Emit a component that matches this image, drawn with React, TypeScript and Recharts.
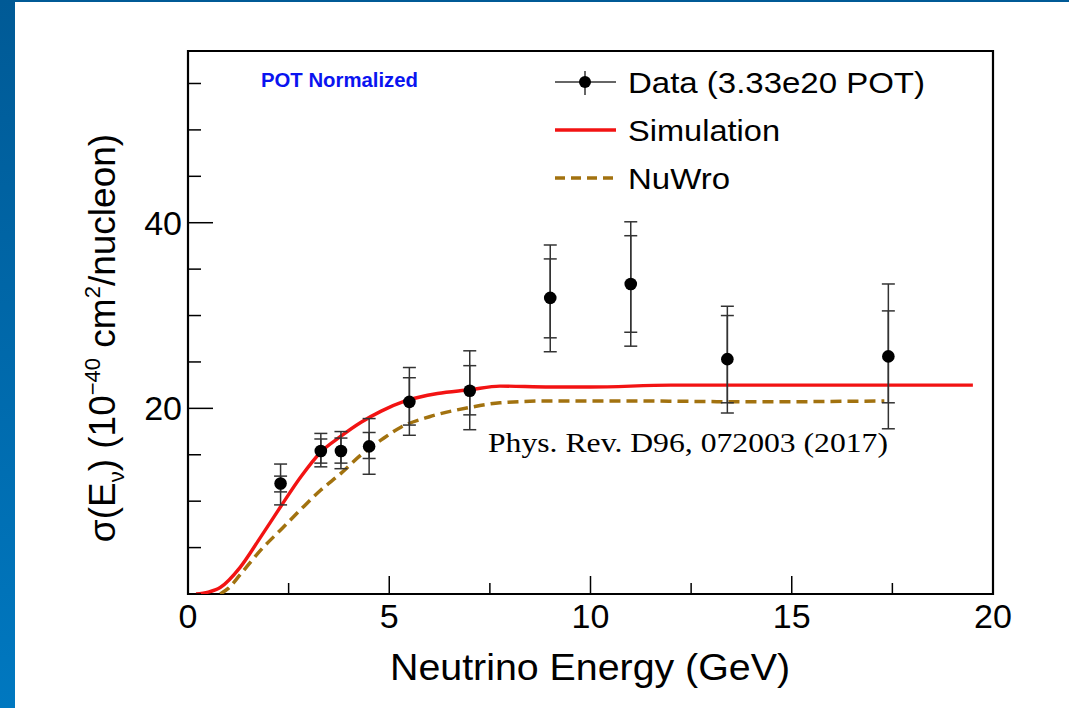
import {
  ComposedChart,
  Line,
  Scatter,
  ErrorBar,
  XAxis,
  YAxis,
  ReferenceArea,
} from "recharts";

// measured points (GeV, 1e-40 cm^2/nucleon)
const energy = [2.3, 3.3, 3.8, 4.5, 5.5, 7.0, 9.0, 11.0, 13.4, 17.4];
const xsec = [11.9, 15.4, 15.4, 15.9, 20.7, 21.9, 31.9, 33.4, 25.3, 25.6];
const totHigh = [14.0, 17.3, 17.5, 18.9, 24.4, 26.2, 37.6, 40.1, 31.0, 33.4];
const totLow = [9.6, 13.7, 13.5, 12.9, 17.1, 17.7, 26.1, 26.7, 19.5, 17.8];
const statHigh = [12.7, 16.7, 16.8, 17.4, 23.3, 24.6, 36.1, 38.6, 30.0, 30.5];
const statLow = [11.0, 14.1, 14.1, 14.6, 18.2, 19.3, 27.6, 28.2, 20.6, 20.6];

// simulation curve
const simE = [0.2, 0.5, 0.8, 1.3, 1.8, 2.3, 2.8, 3.3, 3.8, 4.3, 4.8, 5.4, 6.2, 7.0, 7.75, 9.0, 10.0, 12.0, 15.0, 19.5];
const simXs = [0, 0.2, 0.7, 2.9, 6.1, 9.4, 12.6, 15.3, 17.0, 18.5, 19.7, 20.8, 21.6, 22.0, 22.4, 22.3, 22.3, 22.5, 22.5, 22.5];

// NuWro curve
const nuE = [0.8, 1.0, 1.3, 1.8, 2.3, 2.8, 3.3, 3.8, 4.3, 4.8, 5.3, 6.0, 7.0, 7.75, 9.0, 11.0, 14.0, 17.3];
const nuXs = [0, 0.6, 2.1, 4.7, 6.9, 9.1, 11.2, 13.0, 15.0, 16.6, 18.0, 19.1, 20.1, 20.6, 20.8, 20.8, 20.7, 20.8];

const xTicks = [0, 2.5, 5, 7.5, 10, 12.5, 15, 17.5, 20];
const yTicks = [0, 5, 10, 15, 20, 25, 30, 35, 40, 45, 50, 55];
const xLabels = [0, 5, 10, 15, 20];
const yLabels = [20, 40];

const dataPoints = energy.map((e, i) => ({
  e,
  xs: xsec[i],
  tot: [xsec[i] - totLow[i], totHigh[i] - xsec[i]],
  stat: [xsec[i] - statLow[i], statHigh[i] - xsec[i]],
}));
const simData = simE.map((e, i) => ({ e, xs: simXs[i] }));
const nuData = nuE.map((e, i) => ({ e, xs: nuXs[i] }));

const FONT = "'Liberation Sans', Arial, sans-serif";
const RED = "#f21313";
const BROWN = "#a2720f";

const XTick = (props: any) => {
  const { x, y, payload } = props;
  const major = xLabels.includes(payload.value);
  return (
    <g>
      <line x1={x} x2={x} y1={y} y2={y - (major ? 18 : 11)} stroke="#000" strokeWidth={1.5} />
      {major && (
        <text x={x} y={y + 34} textAnchor="middle" fontSize={34} fontFamily={FONT} fill="#000">
          {payload.value}
        </text>
      )}
    </g>
  );
};

const YTick = (props: any) => {
  const { x, y, payload } = props;
  const major = yLabels.includes(payload.value);
  return (
    <g>
      <line x1={x} x2={x + (major ? 25 : 13)} y1={y} y2={y} stroke="#000" strokeWidth={1.5} />
      {major && (
        <text x={x - 6} y={y + 12} textAnchor="end" fontSize={34} fontFamily={FONT} fill="#000">
          {payload.value}
        </text>
      )}
    </g>
  );
};

const Dot = (props: any) => <circle cx={props.cx} cy={props.cy} r={6.3} fill="#000" />;

export default function App() {
  return (
    <div style={{ position: "absolute", left: 0, top: 0, width: 1069, height: 708, background: "#fff" }}>
      <div style={{ position: "absolute", left: 0, top: 0, width: 1069, height: 2, background: "#005a96" }} />
      <div
        style={{
          position: "absolute",
          left: 0,
          top: 0,
          width: 15,
          height: 708,
          background: "linear-gradient(#005a96, #0078c0)",
        }}
      />
      <ComposedChart
        width={1069}
        height={708}
        margin={{ top: 51, right: 76, left: 128, bottom: 74 }}
        style={{ position: "absolute", left: 0, top: 0 }}
      >
        <XAxis
          dataKey="e"
          type="number"
          domain={[0, 20]}
          ticks={xTicks}
          height={40}
          tickSize={0}
          tickMargin={0}
          axisLine={false}
          tick={<XTick />}
          allowDataOverflow
        />
        <YAxis
          type="number"
          domain={[0, 58.5]}
          ticks={yTicks}
          width={60}
          tickSize={0}
          tickMargin={0}
          axisLine={false}
          tick={<YTick />}
          allowDataOverflow
        />
        <ReferenceArea x1={0} x2={20} y1={0} y2={58.5} fill="none" stroke="#000" strokeWidth={2.2} />
        <Line
          data={simData}
          dataKey="xs"
          type="monotone"
          stroke={RED}
          strokeWidth={3.4}
          dot={false}
          isAnimationActive={false}
        />
        <Line
          data={nuData}
          dataKey="xs"
          type="monotone"
          stroke={BROWN}
          strokeWidth={3.5}
          strokeDasharray="11 6"
          dot={false}
          isAnimationActive={false}
        />
        <Scatter data={dataPoints} dataKey="xs" shape={<Dot />} isAnimationActive={false}>
          <ErrorBar dataKey="tot" width={6.5} stroke="#333" strokeWidth={1.5} direction="y" />
          <ErrorBar dataKey="stat" width={6.5} stroke="#333" strokeWidth={1.5} direction="y" />
        </Scatter>
      </ComposedChart>

      <svg width={1069} height={708} style={{ position: "absolute", left: 0, top: 0, pointerEvents: "none" }}>
        <text x={261} y={87} fontSize={20} fontWeight="bold" fill="#0a14f0" fontFamily={FONT} textLength={157} lengthAdjust="spacingAndGlyphs">
          POT Normalized
        </text>

        {/* legend */}
        <line x1={555} x2={616} y1={82} y2={82} stroke="#333" strokeWidth={1.5} />
        <line x1={585} x2={585} y1={71} y2={95} stroke="#333" strokeWidth={1.5} />
        <circle cx={585} cy={82} r={6} fill="#000" />
        <text x={628} y={93} fontSize={29} fontFamily={FONT} textLength={297} lengthAdjust="spacingAndGlyphs">
          Data (3.33e20 POT)
        </text>
        <line x1={555} x2={616} y1={130} y2={130} stroke={RED} strokeWidth={3.4} />
        <text x={628} y={141} fontSize={29} fontFamily={FONT} textLength={152} lengthAdjust="spacingAndGlyphs">
          Simulation
        </text>
        <line x1={555} x2={616} y1={178} y2={178} stroke={BROWN} strokeWidth={3.5} strokeDasharray="10 6" />
        <text x={628} y={189} fontSize={29} fontFamily={FONT} textLength={102} lengthAdjust="spacingAndGlyphs">
          NuWro
        </text>

        <text x={488} y={452} fontSize={28} fontFamily="'Liberation Serif', 'Times New Roman', serif" textLength={400} lengthAdjust="spacingAndGlyphs">
          Phys. Rev. D96, 072003 (2017)
        </text>

        {/* axis titles */}
        <text x={590} y={680} fontSize={36} textAnchor="middle" fontFamily={FONT} textLength={400} lengthAdjust="spacingAndGlyphs">
          Neutrino Energy (GeV)
        </text>
        <text
          transform="translate(115 338) rotate(-90)"
          textAnchor="middle"
          fontSize={37}
          fontFamily={FONT}
        >
          σ(E<tspan fontSize={22} dy={9}>ν</tspan>
          <tspan dy={-9}>) (10</tspan>
          <tspan fontSize={22} dy={-15}>−40</tspan>
          <tspan dy={15}> cm</tspan>
          <tspan fontSize={22} dy={-15}>2</tspan>
          <tspan dy={15}>/nucleon)</tspan>
        </text>
      </svg>
    </div>
  );
}
